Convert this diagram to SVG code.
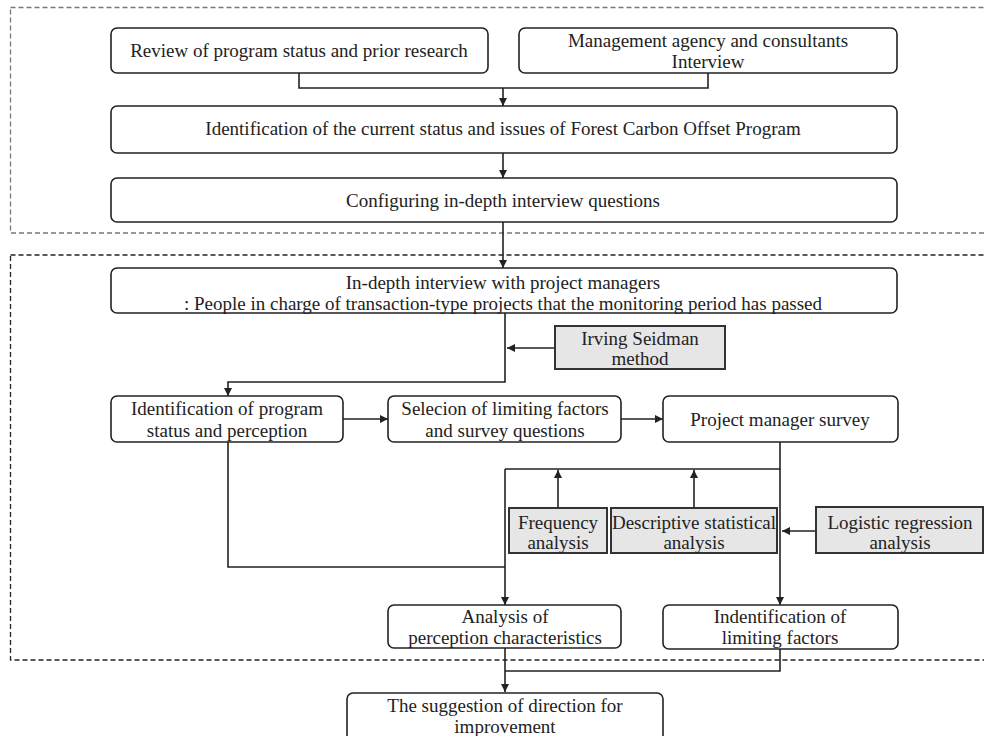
<svg xmlns="http://www.w3.org/2000/svg" width="984" height="736" viewBox="0 0 984 736">
<defs>
<marker id="ah" viewBox="0 0 10 10" refX="10" refY="5" markerWidth="8" markerHeight="8" markerUnits="userSpaceOnUse" orient="auto">
<path d="M0,0 L10,5 L0,10 z" fill="#222"/>
</marker>
<style>
.box{fill:#fff;stroke:#222;stroke-width:1.6}
.gbox{fill:#e6e6e6;stroke:#333;stroke-width:2}
.t{font-family:"Liberation Serif","DejaVu Serif",serif;font-size:19px;fill:#222;text-anchor:middle}
.c{fill:none;stroke:#222;stroke-width:1.6}
.a{fill:none;stroke:#222;stroke-width:1.6;marker-end:url(#ah)}
</style>
</defs>
<rect width="984" height="736" fill="#fff"/>
<g id="frames">
<rect x="10.5" y="7.5" width="990" height="225.5" fill="none" stroke="#777" stroke-width="1.3" stroke-dasharray="5,3"/>
<rect x="10.5" y="255" width="990" height="405" fill="none" stroke="#222" stroke-width="1.3" stroke-dasharray="5,3"/>
</g>
<g id="connectors">
<path class="c" d="M299,73 V88 H708 V73"/>
<path class="a" d="M503,88 V106"/>
<path class="a" d="M503,153 V178"/>
<path class="a" d="M503,222 V268"/>
<path class="a" d="M505,313 V382 H228 V396"/>
<path class="a" d="M555,348 H507"/>
<path class="a" d="M343,419 H388"/>
<path class="a" d="M621,419 H663"/>
<path class="c" d="M780,442 V469 H505"/>
<path class="a" d="M780,469 V605"/>
<path class="a" d="M505,469 V605"/>
<path class="a" d="M558,508 V470"/>
<path class="a" d="M694,508 V470"/>
<path class="a" d="M816,531 H782"/>
<path class="c" d="M228,442 V567 H505"/>
<path class="a" d="M505,648 V692"/>
<path class="c" d="M780,649 V671 H505"/>
</g>
<g id="n1"><rect class="box" x="111" y="28" width="377" height="45" rx="6"/><text class="t" x="299" y="57">Review of program status and prior research</text></g>
<g id="n2"><rect class="box" x="519" y="28" width="378" height="45" rx="6"/><text class="t" x="708" y="47">Management agency and consultants</text><text class="t" x="708" y="68">Interview</text></g>
<g id="n3"><rect class="box" x="111" y="106" width="786" height="47" rx="6"/><text class="t" x="503" y="135">Identification of the current status and issues of Forest Carbon Offset Program</text></g>
<g id="n4"><rect class="box" x="111" y="178" width="786" height="44" rx="6"/><text class="t" x="503" y="207">Configuring in-depth interview questions</text></g>
<g id="n5"><rect class="box" x="111" y="268" width="786" height="45" rx="6"/><text class="t" x="503" y="289">In-depth interview with project managers</text><text class="t" x="503" y="310">: People in charge of transaction-type projects that the monitoring period has passed</text></g>
<g id="n6"><rect class="gbox" x="555" y="326" width="170" height="43"/><text class="t" x="640" y="345">Irving Seidman</text><text class="t" x="640" y="365">method</text></g>
<g id="n7"><rect class="box" x="111" y="396" width="232" height="46" rx="6"/><text class="t" x="227" y="415">Identification of program</text><text class="t" x="227" y="437">status and perception</text></g>
<g id="n8"><rect class="box" x="388" y="396" width="233" height="46" rx="6"/><text class="t" x="505" y="415">Selecion of limiting factors</text><text class="t" x="505" y="437">and survey questions</text></g>
<g id="n9"><rect class="box" x="663" y="396" width="235" height="46" rx="6"/><text class="t" x="780" y="426">Project manager survey</text></g>
<g id="n10"><rect class="gbox" x="509" y="508" width="98" height="45"/><text class="t" x="558" y="529">Frequency</text><text class="t" x="558" y="549">analysis</text></g>
<g id="n11"><rect class="gbox" x="611" y="508" width="166" height="45"/><text class="t" x="694" y="529">Descriptive statistical</text><text class="t" x="694" y="549">analysis</text></g>
<g id="n12"><rect class="gbox" x="816" y="507" width="167" height="46"/><text class="t" x="900" y="529">Logistic regression</text><text class="t" x="900" y="549">analysis</text></g>
<g id="n13"><rect class="box" x="388" y="605" width="233" height="43" rx="6"/><text class="t" x="505" y="623">Analysis of</text><text class="t" x="505" y="644">perception characteristics</text></g>
<g id="n14"><rect class="box" x="663" y="605" width="235" height="44" rx="6"/><text class="t" x="780" y="623">Indentification of</text><text class="t" x="780" y="644">limiting factors</text></g>
<g id="n15"><rect class="box" x="347" y="693" width="316" height="50" rx="6"/><text class="t" x="505" y="712">The suggestion of direction for</text><text class="t" x="505" y="733">improvement</text></g>
</svg>
